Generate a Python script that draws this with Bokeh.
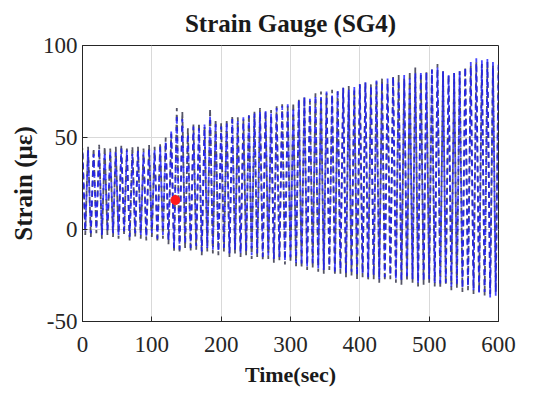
from bokeh.plotting import figure
from bokeh.models import Range1d, FixedTicker
from bokeh.embed import file_html
from bokeh.resources import INLINE

# sampling grid for peaks (every 8 s) and troughs (offset by 4 s)
peak_t = list(range(0, 601, 8))
trough_t = list(range(4, 600, 8))

# measured (black) series: peak and trough values (micro-strain)
black_peaks = [44, 45, 44, 46, 45, 44, 45, 46, 44, 45, 45, 44, 46, 45, 47,
               50, 52, 66, 64, 55, 57, 58, 56, 66, 60, 58, 60, 62, 61, 60,
               63, 64, 66, 64, 65, 67, 68, 67, 69, 71, 72, 70, 74, 75, 74,
               76, 75, 77, 78, 76, 79, 80, 79, 81, 82, 80, 83, 84, 82, 86,
               88, 84, 86, 87, 90, 86, 84, 85, 86, 88, 89, 91, 90, 91, 89, 88]
black_troughs = [-3, -4, -2, -5, -3, -4, -5, -3, -6, -4, -5, -6, -4, -7, -5,
                 -8, -12, -13, -10, -12, -11, -14, -12, -13, -14, -12, -15, -13, -15, -14,
                 -16, -15, -17, -16, -18, -17, -19, -18, -20, -21, -22, -21, -23, -24, -22,
                 -25, -24, -26, -25, -27, -26, -28, -27, -29, -28, -27, -29, -30, -28, -29,
                 -31, -30, -29, -31, -32, -30, -33, -32, -34, -33, -35, -34, -36, -35, -34]

# simulated (blue) series
blue_peaks = [42, 43, 41, 44, 42, 43, 42, 44, 43, 41, 43, 42, 44, 43, 45,
              48, 54, 62, 60, 52, 56, 55, 57, 62, 58, 56, 58, 60, 59, 61,
              62, 63, 64, 65, 63, 66, 67, 68, 66, 70, 72, 71, 73, 72, 75,
              73, 76, 77, 76, 78, 79, 80, 78, 81, 80, 82, 83, 81, 84, 83,
              85, 86, 85, 87, 88, 86, 84, 85, 86, 88, 91, 93, 92, 93, 91, 90]
blue_troughs = [-1, -2, 0, -3, -1, -2, -3, -1, -4, -2, -3, -4, -2, -5, -3,
                -6, -10, -11, -8, -10, -9, -12, -10, -11, -12, -10, -13, -11, -13, -12,
                -14, -13, -15, -14, -16, -15, -17, -16, -18, -19, -20, -19, -21, -22, -20,
                -23, -22, -24, -23, -25, -24, -26, -25, -27, -26, -25, -27, -28, -26, -27,
                -29, -28, -27, -29, -30, -29, -31, -30, -32, -31, -33, -35, -34, -37, -36]

marker_t = [134]
marker_v = [16]

x_ticks = [0, 100, 200, 300, 400, 500, 600]
y_ticks = [-50, 0, 50, 100]


def interleave(pt, pv, tt, tv):
    xs, ys = [], []
    for i in range(len(pt)):
        xs.append(pt[i]); ys.append(pv[i])
        if i < len(tt):
            xs.append(tt[i]); ys.append(tv[i])
    return xs, ys


bx, by = interleave(peak_t, black_peaks, trough_t, black_troughs)
ux, uy = interleave(peak_t, blue_peaks, trough_t, blue_troughs)

FONT = "Liberation Serif"

p = figure(width=554, height=394, output_backend="svg", toolbar_location=None,
           x_range=Range1d(0, 600), y_range=Range1d(-50, 100),
           min_border_left=82, min_border_right=56, min_border_top=45,
           min_border_bottom=73)
p.background_fill_color = "white"
p.border_fill_color = "white"
p.outline_line_color = "#262626"
p.outline_line_width = 1

p.title.text = "Strain Gauge (SG4)"
p.title.align = "center"
p.title.vertical_align = "top"
p.title.text_font = FONT
p.title.text_font_size = "25px"
p.title.text_font_style = "bold"
p.title.text_color = "#1a1a1a"
p.title.offset = 0
p.title.standoff = 14

p.line(bx, by, line_color="#2a2a40", line_width=1.8, line_dash="6 4",
       line_dash_offset=5, line_alpha=0.8)
p.line(ux, uy, line_color="#1a1aff", line_width=1.8, line_dash="6 4",
       line_alpha=0.8)
p.scatter(marker_t, marker_v, size=9, color="#ff1a1a", line_color="#ff1a1a")

for ax in (p.xaxis[0], p.yaxis[0]):
    ax.axis_line_color = "#262626"
    ax.major_tick_in = 5
    ax.major_tick_out = 0
    ax.minor_tick_in = 0
    ax.minor_tick_out = 0
    ax.major_tick_line_color = "#262626"
    ax.major_label_text_font = FONT
    ax.major_label_text_font_size = "23px"
    ax.major_label_text_color = "#262626"
    ax.axis_label_text_font = FONT
    ax.axis_label_text_font_style = "bold"
    ax.axis_label_text_color = "#1a1a1a"

p.xaxis.axis_label_text_font_size = "22px"
p.yaxis.axis_label_text_font_size = "25px"
p.xaxis.ticker = FixedTicker(ticks=x_ticks)
p.yaxis.ticker = FixedTicker(ticks=y_ticks)
p.yaxis.major_label_overrides = {-50: "-50"}
p.xaxis.axis_label = "Time(sec)"
p.yaxis.axis_label = "Strain (με)"
p.xaxis.major_label_standoff = 15
p.yaxis.major_label_standoff = 5
p.xaxis.axis_label_standoff = 7
p.yaxis.axis_label_standoff = 3

p.grid.grid_line_color = "#d9d9d9"
p.grid.grid_line_width = 1

open("out.html", "w").write(file_html(p, INLINE))
